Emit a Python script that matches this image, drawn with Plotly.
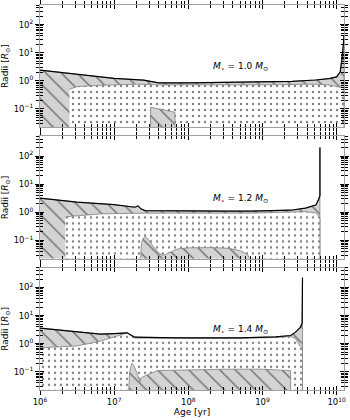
import plotly.graph_objects as go
from plotly.subplots import make_subplots

# Kippenhahn-style radii vs age (age in yr, radii in R_sun)
masses = ['1.0', '1.2', '1.4']

# ---- M = 1.0 Msun
surf_age_10 = [1.0e6, 3.16e6, 1.0e7, 2.5e7, 3.5e7, 4.0e7, 1.0e8, 3.2e8, 1.0e9, 2.5e9, 5.2e9, 7.9e9, 1.0e10, 1.12e10, 1.2e10, 1.26e10]
surf_rad_10 = [2.4, 1.7, 1.22, 1.06, 0.93, 0.85, 0.85, 0.87, 0.89, 0.95, 1.07, 1.2, 1.38, 2.1, 8.5, 40.0]
env_age_10 = [2.5e6, 3.16e6, 6.3e6, 2.0e7, 4.0e7, 1.0e8, 1.0e9, 5.2e9, 7.9e9, 1.0e10, 1.12e10, 1.26e10]
env_rad_10 = [0.50, 0.62, 0.69, 0.76, 0.72, 0.71, 0.72, 0.76, 0.71, 0.63, 0.58, 0.55]
core_age_10 = [3.1e7, 3.1e7, 4.0e7, 5.0e7, 6.6e7, 6.6e7]
core_rad_10 = [0.01, 0.115, 0.10, 0.087, 0.076, 0.01]

# ---- M = 1.2 Msun
surf_age_12 = [1.0e6, 3.16e6, 1.0e7, 1.9e7, 2.1e7, 2.3e7, 2.6e7, 6.3e7, 3.2e8, 6.9e8, 2.4e9, 3.8e9, 5.25e9, 5.7e9, 5.96e9, 5.96e9]
surf_rad_12 = [3.16, 2.28, 1.86, 1.51, 1.68, 1.32, 1.15, 1.11, 1.1, 1.1, 1.18, 1.4, 1.8, 2.8, 3.9, 200.0]
env_age_12 = [2.2e6, 6.3e6, 1.0e7, 2.0e7, 2.3e7, 2.6e7, 6.9e8, 2.4e9, 3.8e9, 5.25e9, 5.7e9, 5.96e9]
env_rad_12 = [0.69, 0.87, 0.89, 0.93, 0.98, 0.93, 0.93, 0.98, 1.05, 0.95, 0.69, 0.63]
core_age_12 = [2.24e7, 2.34e7, 2.45e7, 2.63e7, 2.88e7, 3.3e7, 4.0e7, 4.6e7, 5.5e7, 7.1e7, 1.0e8, 2.0e8, 3.5e8, 5.0e8, 6.3e8, 7.6e8]
core_rad_12 = [0.01, 0.08, 0.115, 0.135, 0.11, 0.065, 0.036, 0.029, 0.036, 0.049, 0.054, 0.055, 0.052, 0.043, 0.032, 0.01]

# ---- M = 1.4 Msun
surf_age_14 = [1.0e6, 3.16e6, 6.5e6, 1.0e7, 1.5e7, 1.7e7, 1.9e7, 6.6e7, 5.0e8, 1.5e9, 2.4e9, 2.8e9, 3.24e9, 3.43e9, 3.47e9]
surf_rad_14 = [3.6, 2.75, 2.19, 2.29, 2.43, 2.0, 1.70, 1.62, 1.62, 1.74, 1.95, 2.57, 3.8, 5.5, 224.0]
env_age_14 = [1.0e6, 3.16e6, 6.5e6, 1.0e7, 1.26e7, 1.5e7, 1.9e7, 6.6e7, 5.0e8, 1.5e9, 2.4e9, 2.8e9, 3.24e9, 3.47e9]
env_rad_14 = [0.71, 0.83, 1.23, 1.7, 2.1, 2.4, 1.58, 1.55, 1.55, 1.66, 1.8, 1.5, 0.79, 0.75]
core_age_14 = [1.55e7, 1.62e7, 1.7e7, 1.74e7, 1.86e7, 2.0e7, 2.24e7, 2.3e7, 2.63e7, 3.8e7, 5.0e7, 7.9e7, 3.2e8, 1.0e9, 2.0e9, 2.4e9, 2.4e9]
core_rad_14 = [0.01, 0.1, 0.17, 0.2, 0.16, 0.09, 0.044, 0.06, 0.072, 0.11, 0.112, 0.117, 0.123, 0.123, 0.115, 0.11, 0.01]

panels = [
    (surf_age_10, surf_rad_10, env_age_10, env_rad_10, core_age_10, core_rad_10),
    (surf_age_12, surf_rad_12, env_age_12, env_rad_12, core_age_12, core_rad_12),
    (surf_age_14, surf_rad_14, env_age_14, env_rad_14, core_age_14, core_rad_14),
]

FLOOR = 0.01
HATCH = dict(shape='\\', fgcolor='black', bgcolor='#d3d3d3', size=11, solidity=0.12)
DOTS = dict(shape='.', fgcolor='black', bgcolor='white', size=6, solidity=0.12)
EDGE = dict(color='#808080', width=0.8)

x_major = [1e6, 1e7, 1e8, 1e9, 1e10]
x_text = ['10<sup>6</sup>', '10<sup>7</sup>', '10<sup>8</sup>', '10<sup>9</sup>', '10<sup>10</sup>']
y_major = [0.1, 1, 10, 100]
y_text = ['10<sup>\u22121</sup>', '10<sup>0</sup>', '10<sup>1</sup>', '10<sup>2</sup>']
x_minor = [m * 10 ** e for e in range(6, 10) for m in range(2, 10)]
y_minor = [m * 10 ** e for e in range(-2, 3) for m in range(2, 10)]

fig = make_subplots(rows=3, cols=1, shared_xaxes=True, vertical_spacing=0.024)

for i, (sa, sr, ea, er, ca, cr) in enumerate(panels):
    row = i + 1
    # convective envelope (whole star, later covered by radiative zone)
    fig.add_trace(go.Scatter(x=sa + [sa[-1], sa[0]], y=sr + [FLOOR, FLOOR], mode='lines',
                             fill='toself', fillcolor='#d3d3d3', fillpattern=HATCH,
                             line=EDGE, showlegend=False, hoverinfo='skip'), row=row, col=1)
    # radiative zone
    fig.add_trace(go.Scatter(x=ea + [ea[-1], ea[0]], y=er + [FLOOR, FLOOR], mode='lines',
                             fill='toself', fillcolor='white', fillpattern=DOTS,
                             line=EDGE, showlegend=False, hoverinfo='skip'), row=row, col=1)
    # convective core
    fig.add_trace(go.Scatter(x=ca, y=cr, mode='lines',
                             fill='toself', fillcolor='#d3d3d3', fillpattern=HATCH,
                             line=EDGE, showlegend=False, hoverinfo='skip'), row=row, col=1)
    # stellar radius
    fig.add_trace(go.Scatter(x=sa, y=sr, mode='lines', line=dict(color='black', width=1.2),
                             showlegend=False, hoverinfo='skip'), row=row, col=1)
    sfx = '' if row == 1 else str(row)
    fig.add_annotation(x=8.3, y=0.5, xref='x' + sfx, yref='y' + sfx,
                       xanchor='left', yanchor='middle', showarrow=False,
                       text='<i>M</i><sub>\u22c6</sub> = %s <i>M</i><sub>\u2299</sub>' % masses[i],
                       font=dict(family='DejaVu Sans', size=9, color='black'))

tickfont = dict(family='DejaVu Sans', size=8.5, color='black')
titlefont = dict(family='DejaVu Sans', size=9, color='black')
fig.update_xaxes(type='log', range=[6, 10.1], tickmode='array', tickvals=x_major, ticktext=x_text,
                 ticks='outside', ticklen=4, tickwidth=0.8, tickcolor='black',
                 showline=True, linecolor='#a0a0a0', linewidth=1, mirror='allticks',
                 showgrid=False, zeroline=False, tickfont=tickfont, automargin=False,
                 minor=dict(tickmode='array', tickvals=x_minor, ticks='outside', ticklen=3,
                            tickwidth=0.8, tickcolor='black', showgrid=False))
fig.update_yaxes(type='log', range=[-1.65, 2.7], tickmode='array', tickvals=y_major, ticktext=y_text,
                 ticks='outside', ticklen=4, tickwidth=0.8, tickcolor='black',
                 showline=True, linecolor='#a0a0a0', linewidth=1, mirror='allticks',
                 showgrid=False, zeroline=False, tickfont=tickfont, automargin=False,
                 title_text='Radii [<i>R</i><sub>\u2299</sub>]', title_font=titlefont, title_standoff=3,
                 minor=dict(tickmode='array', tickvals=y_minor, ticks='outside', ticklen=3,
                            tickwidth=0.8, tickcolor='black', showgrid=False))
fig.update_xaxes(title_text='Age [yr]', title_font=titlefont, title_standoff=1, row=3, col=1)

# second set of axes on top, for the inward half of the ticks
inner = {}
for k in range(1, 4):
    base = '' if k == 1 else str(k)
    n = k + 3
    inner['xaxis%d' % n] = dict(type='log', range=[6, 10.1], overlaying='x' + base, anchor='y' + base,
                                tickmode='array', tickvals=x_major, ticks='inside', ticklen=4,
                                tickwidth=0.8, tickcolor='black', mirror='allticks', showline=False,
                                showticklabels=False, showgrid=False, zeroline=False, automargin=False,
                                minor=dict(tickmode='array', tickvals=x_minor, ticks='inside',
                                           ticklen=3, tickwidth=0.8, tickcolor='black', showgrid=False))
    inner['yaxis%d' % n] = dict(type='log', range=[-1.65, 2.7], overlaying='y' + base, anchor='x' + base,
                                tickmode='array', tickvals=y_major, ticks='inside', ticklen=4,
                                tickwidth=0.8, tickcolor='black', mirror='allticks', showline=False,
                                showticklabels=False, showgrid=False, zeroline=False, automargin=False,
                                minor=dict(tickmode='array', tickvals=y_minor, ticks='inside',
                                           ticklen=3, tickwidth=0.8, tickcolor='black', showgrid=False))
    fig.add_trace(go.Scatter(x=[], y=[], xaxis='x%d' % n, yaxis='y%d' % n,
                             showlegend=False, hoverinfo='skip'))

fig.update_layout(
    **inner,
    width=350, height=420,
    margin=dict(l=40, r=6, t=5, b=30, autoexpand=False),
    plot_bgcolor='white', paper_bgcolor='white',
    font=tickfont,
    showlegend=False,
)
# the page body has a default 8px margin; drop it so the figure sits at the window corner
fig.write_html("out.html", config={'displayModeBar': False},
               post_script="document.body.style.margin='0';")
